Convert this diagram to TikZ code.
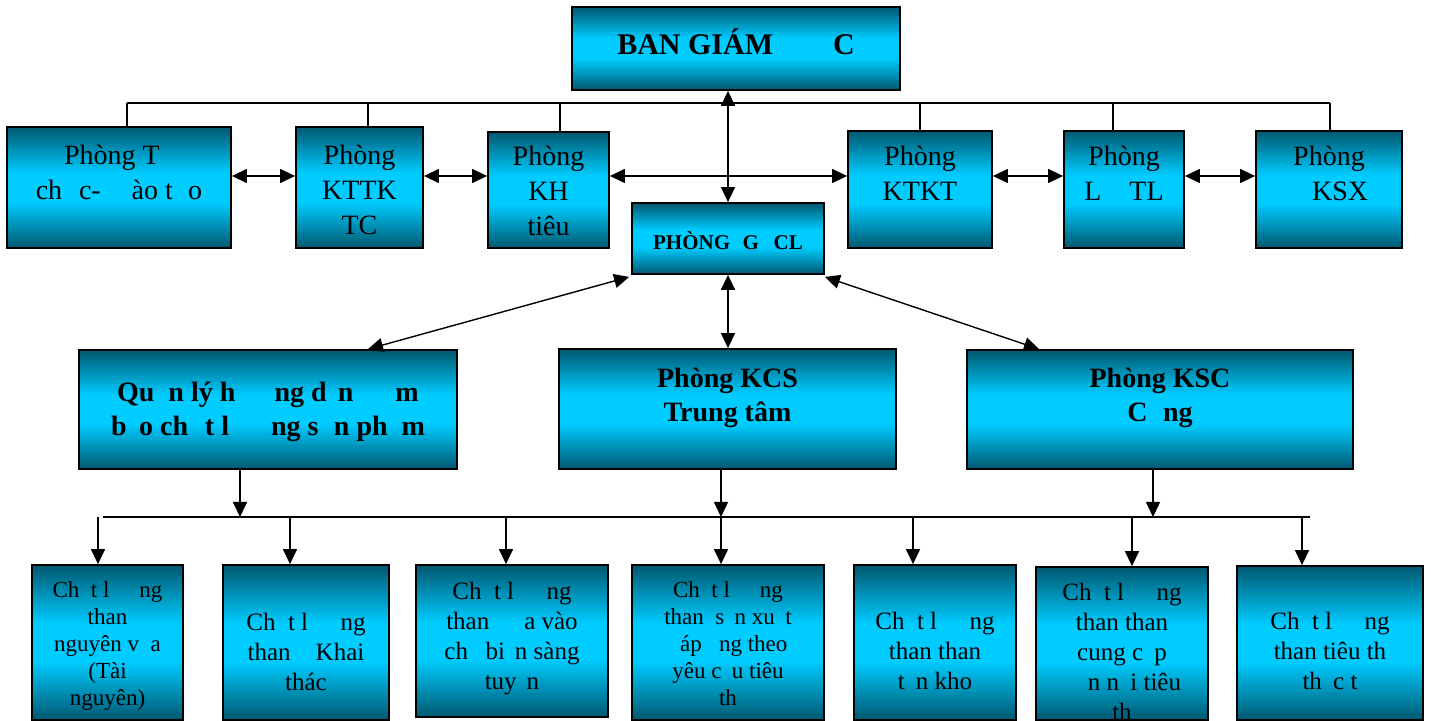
\documentclass[tikz,border=0pt]{standalone}
\usepackage{fontspec}
\setmainfont{Liberation Serif}
\usetikzlibrary{arrows.meta}
\usetikzlibrary{positioning}
\definecolor[named]{BoxDark}{RGB}{0,88,112}
\definecolor[named]{BoxLight}{RGB}{0,204,255}
\pgfdeclareverticalshading{boxfade}{100bp}{%
  color(0bp)=(BoxDark); color(25bp)=(BoxDark);
  color(44bp)=(BoxLight); color(56bp)=(BoxLight);
  color(75bp)=(BoxDark); color(100bp)=(BoxDark)}
\newcommand{\gap}[1]{\hspace*{#1em}}
\tikzset{
  unit/.style={draw,line width=0.9pt,shade,shading=boxfade,inner sep=0pt},
  txt/.style={align=center,inner sep=0pt},
  toptxt/.style={txt,font=\fontsize{14pt}{17.5pt}\selectfont},
  midtxt/.style={txt,font=\fontsize{14pt}{17pt}\selectfont\bfseries},
  lowtxt/.style={txt,font=\fontsize{12.5pt}{15pt}\selectfont},
  smalltxt/.style={txt,font=\fontsize{11.5pt}{13.5pt}\selectfont},
  link/.style={line width=0.7pt},
  twoway/.style={link,<->},
  oneway/.style={link,->},
}
\begin{document}
\begin{tikzpicture}[x=0.5pt,y=-0.5pt,>={Triangle[length=7.5pt,width=7pt]}]
  \useasboundingbox (0,0) rectangle (1431,721);

  % Ban giam doc {{{
  \node[unit,minimum width=164pt,minimum height=41.5pt] (ban) at (736,48.5) {};
  \node[txt,font=\fontsize{15pt}{18pt}\selectfont\bfseries,anchor=base]
    (ban-t) at ([yshift=-3.25pt]ban.center) {BAN GIÁM\gap{2}C};
  % }}}

  % Phong ban {{{
  \node[unit,minimum width=112pt,minimum height=60.5pt] (tc) at (119,187.5) {};
  \node[unit,minimum width=63.5pt,minimum height=60.5pt] (kttk) at (359.5,187.5) {};
  \node[unit,minimum width=60.5pt,minimum height=58pt] (kh) at (548.5,190) {};
  \node[unit,minimum width=72pt,minimum height=58.5pt] (ktkt) at (920,189.5) {};
  \node[unit,minimum width=60pt,minimum height=58.5pt] (ltl) at (1124,189.5) {};
  \node[unit,minimum width=73pt,minimum height=58.5pt] (ksx) at (1329,189.5) {};
  \node[unit,minimum width=96pt,minimum height=35.5pt] (gcl) at (728,238.5) {};

  \node[toptxt,below=9.5pt of tc.north] (tc-t)
    {Phòng T\gap{0.5}\\ch\gap{0.6}c-\gap{1.1}ào t\gap{0.55}o};
  \node[toptxt,below=9.5pt of kttk.north] (kttk-t) {Phòng\\KTTK\\TC};
  \node[toptxt,below=7.5pt of kh.north] (kh-t) {Phòng\\KH\\tiêu};
  \node[toptxt,below=8pt of ktkt.north] (ktkt-t) {Phòng\\KTKT};
  \node[toptxt,below=8pt of ltl.north] (ltl-t) {Phòng\\L\gap{1}TL};
  \node[toptxt,below=8pt of ksx.north] (ksx-t) {Phòng\\\gap{0.8}KSX};
  \node[txt,font=\fontsize{10.5pt}{12pt}\selectfont\bfseries,anchor=base]
    (gcl-t) at ([yshift=-5.75pt]gcl.center) {PHÒNG\gap{0.6}G\gap{0.7}CL};
  % }}}

  % Kiem tra {{{
  \node[unit,minimum width=189pt,minimum height=59.5pt] (ql) at (268,409.5) {};
  \node[unit,minimum width=168.5pt,minimum height=60pt] (kcs) at (727.5,409) {};
  \node[unit,minimum width=193pt,minimum height=59.5pt] (ksc) at (1160,409.5) {};

  \node[midtxt,below=16.5pt of ql.north] (ql-t)
    {Qu\gap{0.5}n lý h\gap{1.4}ng d\gap{0.4}n\gap{1.5}m\\
     b\gap{0.45}o ch\gap{0.6}t l\gap{1.5}ng s\gap{0.55}n ph\gap{0.5}m};
  \node[midtxt,below=10pt of kcs.north] (kcs-t) {Phòng KCS\\Trung tâm};
  \node[midtxt,below=9.5pt of ksc.north] (ksc-t) {Phòng KSC\\C\gap{0.55}ng};
  % }}}

  % Chat luong {{{
  \node[unit,minimum width=75.5pt,minimum height=77.5pt] (cl1) at (107.5,642.5) {};
  \node[unit,minimum width=83pt,minimum height=77.5pt] (cl2) at (306,642.5) {};
  \node[unit,minimum width=96pt,minimum height=76pt] (cl3) at (512,641) {};
  \node[unit,minimum width=96pt,minimum height=77.5pt] (cl4) at (728,642.5) {};
  \node[unit,minimum width=81pt,minimum height=77.5pt] (cl5) at (935,642.5) {};
  \node[unit,minimum width=86pt,minimum height=76.5pt] (cl6) at (1122,643.5) {};
  \node[unit,minimum width=93pt,minimum height=77pt] (cl7) at (1330,643) {};

  \node[smalltxt,below=8.5pt of cl1.north] (cl1-t)
    {Ch\gap{0.5}t l\gap{1.3}ng\\than\\nguyên v\gap{0.5}a\\(Tài\\nguyên)};
  \node[lowtxt,below=24.5pt of cl2.north] (cl2-t)
    {Ch\gap{0.5}t l\gap{1.3}ng\\than\gap{1}Khai\\thác};
  \node[lowtxt,below=9pt of cl3.north] (cl3-t)
    {Ch\gap{0.5}t l\gap{1.3}ng\\than\gap{1.4}a vào\\ch\gap{0.7}bi\gap{0.4}n sàng\\tuy\gap{0.4}n};
  \node[smalltxt,below=8.5pt of cl4.north] (cl4-t)
    {Ch\gap{0.5}t l\gap{1.3}ng\\than\gap{0.5}s\gap{0.45}n xu\gap{0.45}t\\
     \gap{0.5}áp\gap{0.75}ng theo\\yêu c\gap{0.45}u tiêu\\th};
  \node[lowtxt,below=24pt of cl5.north] (cl5-t)
    {Ch\gap{0.5}t l\gap{1.3}ng\\than than\\t\gap{0.45}n kho};
  \node[lowtxt,below=8.5pt of cl6.north] (cl6-t)
    {Ch\gap{0.5}t l\gap{1.3}ng\\than than\\cung c\gap{0.45}p\\\gap{1}n n\gap{0.45}i tiêu\\th};
  \node[lowtxt,below=23.5pt of cl7.north] (cl7-t)
    {Ch\gap{0.5}t l\gap{1.3}ng\\than tiêu th\\th\gap{0.45}c t};
  % }}}

  % Links {{{
  \foreach \n/\x in {tc/127,kttk/368,kh/560,ktkt/920,ltl/1113,ksx/1330}
    \coordinate (bus-\n) at (\x,103);
  \draw[link] (bus-tc) -- (bus-ksx);
  \foreach \n in {tc,kttk,kh,ktkt,ltl,ksx}
    \draw[link] (bus-\n) -- (bus-\n |- \n.north);
  \draw[twoway] (gcl.north |- ban.south) -- (gcl.north);

  \coordinate (row) at (0,176);
  \foreach \a/\b in {tc/kttk,kttk/kh,kh/ktkt,ktkt/ltl,ltl/ksx}
    \draw[twoway] (\a.east |- row) -- (\b.west |- row);

  \draw[twoway] ([xshift=-1pt,yshift=-1pt]gcl.south west) -- ([xshift=50pt]ql.north);
  \draw[twoway] (gcl.south) -- (gcl.south |- kcs.north);
  \draw[twoway] ([yshift=-1pt]gcl.south east) -- ([xshift=-60.5pt]ksc.north);

  \coordinate (bus2-l) at (103,517);
  \coordinate (bus2-r) at (1310,517);
  \draw[link] (bus2-l) -- (bus2-r);
  \foreach \n/\x in {ql/240,kcs/721,ksc/1153}
    \coordinate (drop-\n) at (\x,517);
  \foreach \n in {ql,kcs,ksc}
    \draw[oneway] (drop-\n |- \n.south) -- (drop-\n);
  \foreach \n/\x in {cl1/98,cl2/290,cl3/506,cl4/721,cl5/913,cl6/1132,cl7/1302}
    \coordinate (feed-\n) at (\x,517);
  \foreach \n in {cl1,cl2,cl3,cl4,cl5,cl6,cl7}
    \draw[oneway] (feed-\n) -- (feed-\n |- \n.north);
  % }}}

\end{tikzpicture}
\end{document}
